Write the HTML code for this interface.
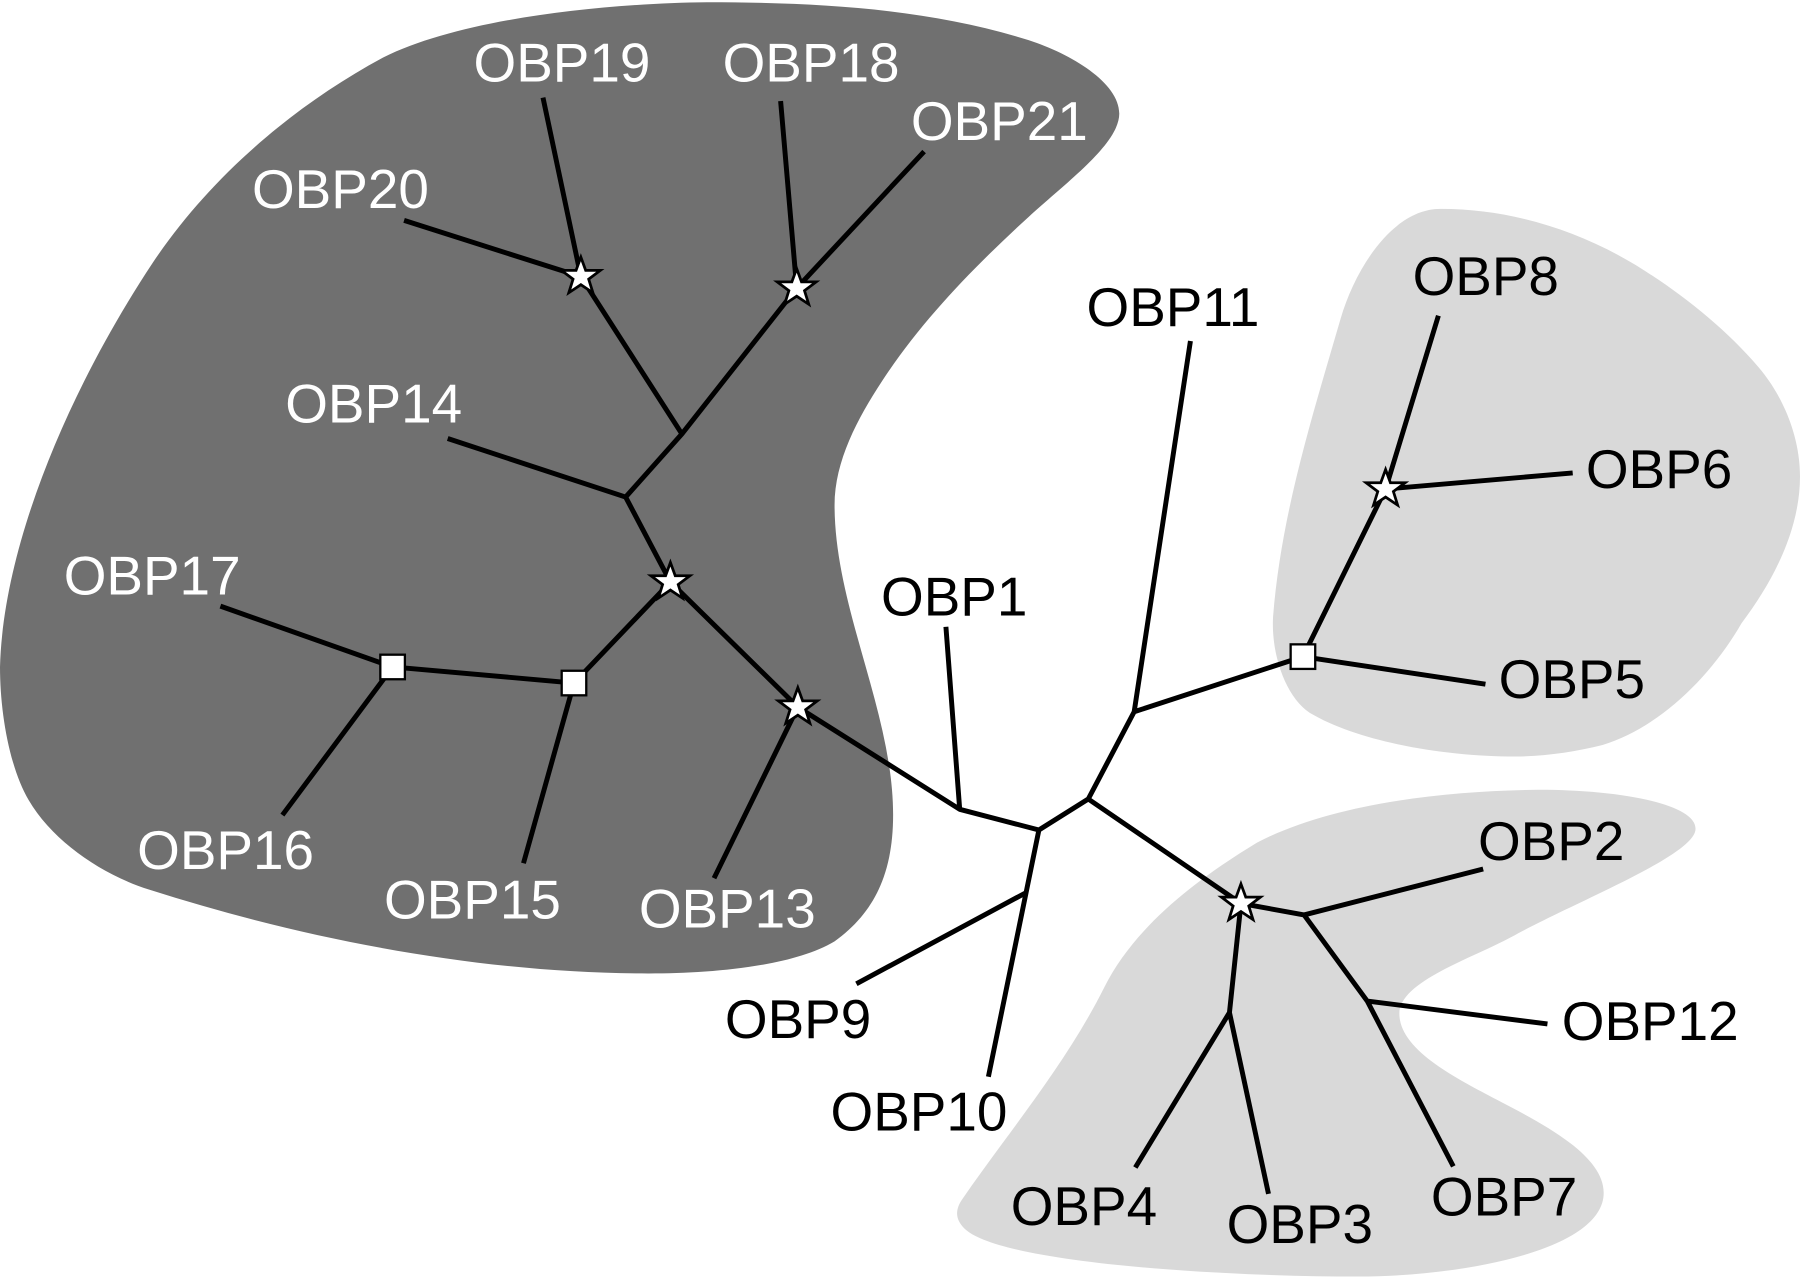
<!DOCTYPE html>
<html>
<head>
<meta charset="utf-8">
<style>
html,body{margin:0;padding:0;background:#fff;width:1800px;height:1277px;overflow:hidden}
svg{display:block}
text{font-family:"Liberation Sans",sans-serif;font-size:47.8px}
.w text{fill:#fff}
.k text{fill:#000}
</style>
</head>
<body>
<svg width="1800" height="1277" viewBox="0 0 1568 1112.4" xmlns="http://www.w3.org/2000/svg">
<defs>
<polygon id="s" points="0,-17 4.2,-5.5 17,-5.5 6.8,2.2 10.5,14 0,7 -10.5,14 -6.8,2.2 -17,-5.5 -4.2,-5.5" fill="#fff" stroke="#000" stroke-width="2.4"/>
<rect id="r" x="-10.7" y="-10.7" width="21.4" height="21.4" fill="#fff" stroke="#000" stroke-width="2"/>
</defs>
<path fill="#707070" d="M0 581C3 470 64 333 133 229C183 154 256 92 334 50C400 17 521 3 616 2C710 2 808 7 896 35C933 47 975 72 975 99C975 125 930 158 896 189C850 231 805 277 771 328C749 361 727 400 727 440C727 530 778 620 778 710C778 760 762 795 727 820C690 842 620 848 565 848C420 848 268 819 130 775C89 762 46 733 25 697C8 668 0 620 0 581Z"/>
<path fill="#d9d9d9" d="M1255 182C1315 182 1374 200 1425 231C1464 255 1502 285 1532 320C1554 346 1568 381 1568 415C1568 461 1545 506 1517 543C1490 590 1445 634 1396 649C1372 655 1345 659 1320 659C1260 659 1185 647 1141 621C1120 607 1107 570 1109 537C1116 448 1143 363 1168 277C1180 236 1212 182 1255 182Z"/>
<path fill="#d9d9d9" d="M838 1045C877 988 928 928 962 860C989 806 1044 765 1095 734C1160 700 1257 689 1340 688C1410 688 1477 700 1477 722C1477 745 1371 786 1317 816C1282 835 1219 855 1219 883C1219 915 1270 940 1304 958C1340 977 1397 1005 1397 1039C1397 1090 1270 1112 1184 1112C1060 1112 870 1100 840 1070C832 1062 832 1054 838 1045Z"/>
<g stroke="#000" stroke-width="4.3" fill="none" stroke-linecap="butt" stroke-linejoin="round">
<path d="M473 85L506 241M352 192L506 241L594 378M680 88L694 251M805 132L694 251L594 378L545 433M390 382L545 433L584 507L500 595L342 581M192 528L342 581M342 581L246 710M500 595L456 752M584 507L695 616L622 765M695 616L836 705L905 723L948 696M824 546L836 705M905 723L861 938M746 857L893 778M948 696L988 620M1037 297L988 620L1135 572L1207 426M1135 572L1294 596M1207 426L1370 412M1207 426L1253 275M948 696L1081 787L1136 797L1292 757M1136 797L1191 872L1348 892M1191 872L1266 1016M1081 787L1071 882L989 1017M1071 882L1105 1040"/>
</g>
<use href="#s" x="506" y="241"/>
<use href="#s" x="694" y="251"/>
<use href="#s" x="584" y="507"/>
<use href="#s" x="695" y="616"/>
<use href="#s" x="1207" y="426"/>
<use href="#s" x="1081" y="787"/>
<use href="#r" x="342" y="581"/>
<use href="#r" x="500" y="595"/>
<use href="#r" x="1135" y="572"/>
<g class="w">
<text x="412.5" y="71">OBP19</text>
<text x="629.5" y="71">OBP18</text>
<text x="793.5" y="122">OBP21</text>
<text x="219.5" y="181">OBP20</text>
<text x="248.5" y="368">OBP14</text>
<text x="55.5" y="518">OBP17</text>
<text x="119.5" y="757">OBP16</text>
<text x="334.5" y="800">OBP15</text>
<text x="556.5" y="808">OBP13</text>
</g>
<g class="k">
<text x="767.5" y="536">OBP1</text>
<text x="946.5" y="284">OBP11</text>
<text x="1230.5" y="257">OBP8</text>
<text x="1381.5" y="425">OBP6</text>
<text x="1305.5" y="608">OBP5</text>
<text x="1287.5" y="749">OBP2</text>
<text x="1360.5" y="906">OBP12</text>
<text x="631.5" y="904">OBP9</text>
<text x="723.5" y="985">OBP10</text>
<text x="880.5" y="1067">OBP4</text>
<text x="1068.5" y="1083">OBP3</text>
<text x="1246.5" y="1059">OBP7</text>
</g>
</svg>
</body>
</html>
